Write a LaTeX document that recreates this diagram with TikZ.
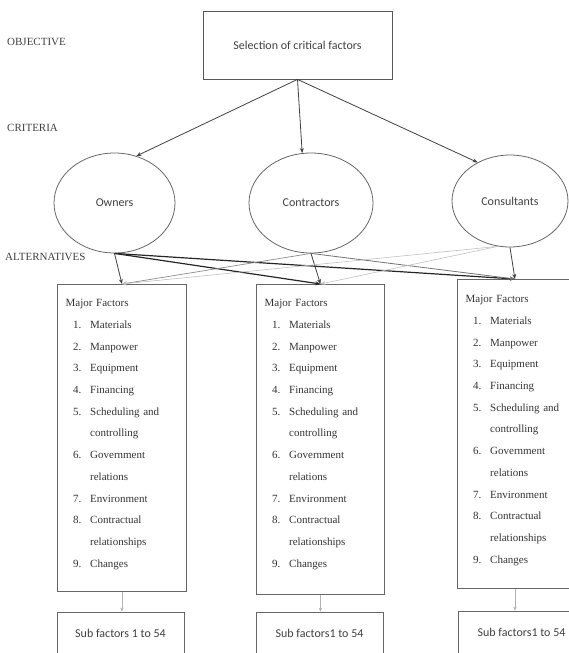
\documentclass[tikz,border=0pt]{standalone}
\usepackage{fontspec}
\setmainfont{Liberation Serif}
\newfontfamily\calib{Carlito}
\usetikzlibrary{arrows.meta, shapes.geometric}

\newcommand{\itm}[2]{\hspace*{7.5pt}\makebox[17pt][l]{#1}#2}
\newcommand{\cnt}[1]{\hspace*{24.5pt}#1}
\newcommand{\majorlist}{\rule{0pt}{8pt}Major Factors\\
  \itm{1.}{Materials}\\
  \itm{2.}{Manpower}\\
  \itm{3.}{Equipment}\\
  \itm{4.}{Financing}\\
  \itm{5.}{Scheduling and}\\
  \cnt{controlling}\\
  \itm{6.}{Government}\\
  \cnt{relations}\\
  \itm{7.}{Environment}\\
  \itm{8.}{Contractual}\\
  \cnt{relationships}\\
  \itm{9.}{Changes}}

\tikzset{
  lbl/.style = {anchor=west, inner sep=0pt, font=\fontsize{11}{13}\selectfont, text=black!75},
  goalbox/.style = {draw=black!65, line width=0.8pt, minimum width=189pt, minimum height=68pt,
    font=\calib\fontsize{12}{14}\selectfont, text=black!75},
  crit/.style = {draw=black!60, ellipse, line width=0.8pt, inner sep=0pt,
    font=\calib\fontsize{12}{14}\selectfont, text=black!75},
  factorbox/.style = {draw=black!60, line width=0.9pt, anchor=north west, inner sep=0pt},
  factorlist/.style = {anchor=north west, inner sep=0pt, text width=118pt, align=left,
    font=\fontsize{11}{21.7}\selectfont, text=black!80},
  subbox/.style = {draw=black!60, line width=0.9pt, minimum width=127pt, minimum height=42pt,
    font=\calib\fontsize{12}{14}\selectfont, text=black!75},
  link/.style = {-{Stealth[length=5pt,width=4pt]}, line width=0.8pt, draw=black!75},
  faint/.style = {-{Stealth[length=4pt,width=3.5pt]}, line width=0.6pt, draw=black!30},
}

\begin{document}
\begin{tikzpicture}[x=1pt, y=-1pt]
\useasboundingbox (0,0) rectangle (569,653);

% levels
\node[lbl] (objective) at (7,42) {OBJECTIVE};
\node[lbl] (criteria) at (7,128) {CRITERIA};
\node[lbl] (alternatives) at (5,257) {ALTERNATIVES};

% objective and criteria
\node[goalbox] (goal) at (297.5,45) {Selection of critical factors};
\node[crit, minimum width=121pt, minimum height=100pt] (owners) at (114.5,203) {Owners};
\node[crit, minimum width=124pt, minimum height=100pt] (contractors) at (311,203) {Contractors};
\node[crit, minimum width=116pt, minimum height=92pt] (consultants) at (510,201) {Consultants};

\draw[link] (goal.south) -- (owners.65);
\draw[link] (goal.south) -- (contractors.100);
\draw[link] (goal.south) -- (consultants.130);

% alternatives
\node[factorbox, minimum width=129pt, minimum height=307pt] (mf1) at (57,284) {};
\node[factorbox, minimum width=128pt, minimum height=310pt] (mf2) at (256,284) {};
\node[factorbox, minimum width=115pt, minimum height=309pt] (mf3) at (457,279) {};
\node[factorlist] (list1) at (65.5,298.5) {\majorlist};
\node[factorlist] (list2) at (264.5,298.5) {\majorlist};
\node[factorlist] (list3) at (465.5,294.5) {\majorlist};

\draw[link] (owners.south) -- (mf1.north);
\draw[link, line width=1.2pt, draw=black!85] (owners.south) -- (mf2.north);
\draw[link, line width=1.2pt, draw=black!85] (owners.south) -- (mf3.north);
\draw[link, line width=0.7pt, draw=black!45] (contractors.south) -- (mf1.north);
\draw[link] (contractors.south) -- (mf2.north);
\draw[link, draw=black!55] (contractors.south) -- (mf3.north);
\draw[link, line width=0.6pt, draw=black!25] (consultants.255) -- (mf1.north);
\draw[link, line width=0.6pt, draw=black!25] (consultants.255) -- (mf2.north);
\draw[link] (consultants.south) -- (mf3.north);

% sub factors
\node[subbox] (sf1) at (120.5,633) {Sub factors 1 to 54};
\node[subbox] (sf2) at (319.5,633) {Sub factors1 to 54};
\node[subbox] (sf3) at (521.5,632) {Sub factors1 to 54};

\draw[faint] (mf1.south) -- (mf1.south |- sf1.north);
\draw[faint] (mf2.south) -- (mf2.south |- sf2.north);
\draw[faint] (mf3.south) -- (mf3.south |- sf3.north);
\end{tikzpicture}
\end{document}
